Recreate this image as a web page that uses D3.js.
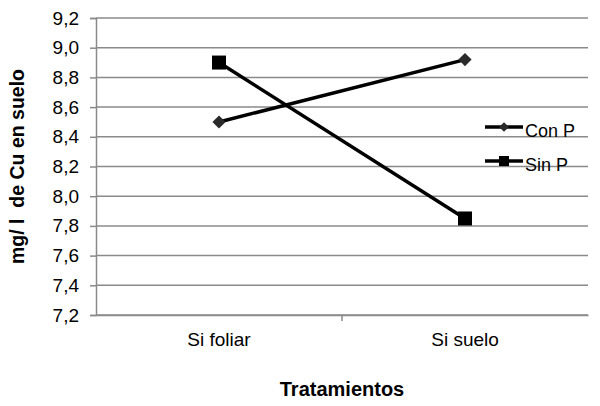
<!DOCTYPE html>
<html>
<head>
<meta charset="utf-8">
<script src="https://cdn.jsdelivr.net/npm/d3@7"></script>
<style>
  body { margin: 0; background: #fff; }
  text { font-family: "Liberation Sans", Arial, sans-serif; fill: #000; }
</style>
</head>
<body>
<div id="chart"></div>
<script>
// data
var categories = ["Si foliar", "Si suelo"];
var conP = [8.50, 8.92];
var sinP = [8.90, 7.85];
var seriesNames = ["Con P", "Sin P"];
var yTicks = [7.2, 7.4, 7.6, 7.8, 8.0, 8.2, 8.4, 8.6, 8.8, 9.0, 9.2];

var svgWidth = 600, svgHeight = 406;
var margin = { top: 18, right: 12, bottom: 91, left: 96 };
var width = svgWidth - margin.left - margin.right;
var height = svgHeight - margin.top - margin.bottom;

var svg = d3.select("#chart").append("svg")
  .attr("width", svgWidth)
  .attr("height", svgHeight);

var g = svg.append("g")
  .attr("transform", `translate(${margin.left}, ${margin.top})`);

var x = d3.scaleBand().domain(categories).range([0, width]);
var y = d3.scaleLinear().domain([7.2, 9.2]).range([height, 0]);

var fmt = d => d3.format(".1f")(d).replace(".", ",");

// gridlines
g.selectAll(".grid").data(yTicks).enter().append("line")
  .attr("x1", 0).attr("x2", width)
  .attr("y1", d => y(d)).attr("y2", d => y(d))
  .attr("stroke", "#8a8a8a").attr("stroke-width", 1.5);

// y axis
var yAxis = g.append("g")
  .call(d3.axisLeft(y).tickValues(yTicks).tickFormat(fmt).tickSize(6).tickPadding(11));
yAxis.select(".domain").attr("stroke", "#8a8a8a").attr("stroke-width", 1.5);
yAxis.selectAll(".tick line").attr("stroke", "#8a8a8a").attr("stroke-width", 1.5);
yAxis.selectAll("text").attr("font-size", 19).attr("font-family", "Liberation Sans, Arial, sans-serif");

// x axis
var xAxis = g.append("g")
  .attr("transform", `translate(0, ${height})`)
  .call(d3.axisBottom(x).tickSize(0));
xAxis.select(".domain").attr("stroke", "#8a8a8a").attr("stroke-width", 1.5);
xAxis.selectAll("text").attr("font-size", 19).attr("font-family", "Liberation Sans, Arial, sans-serif")
  .attr("y", 31).attr("dy", 0);
g.append("line")
  .attr("x1", width / 2).attr("x2", width / 2)
  .attr("y1", height).attr("y2", height + 6)
  .attr("stroke", "#8a8a8a").attr("stroke-width", 1.5);

var cx = d => x(d) + x.bandwidth() / 2;
var line = d3.line().x(d => cx(d[0])).y(d => y(d[1]));

// Con P
g.append("path")
  .datum(categories.map((c, i) => [c, conP[i]]))
  .attr("d", line).attr("fill", "none").attr("stroke", "#000").attr("stroke-width", 3.5);
g.selectAll(".dia").data(categories.map((c, i) => [c, conP[i]])).enter().append("path")
  .attr("d", d3.symbol().type(d3.symbolDiamond2).size(110))
  .attr("transform", d => `translate(${cx(d[0])}, ${y(d[1])})`)
  .attr("fill", "#2a2a2a");

// Sin P
g.append("path")
  .datum(categories.map((c, i) => [c, sinP[i]]))
  .attr("d", line).attr("fill", "none").attr("stroke", "#000").attr("stroke-width", 3.5);
g.selectAll(".sq").data(categories.map((c, i) => [c, sinP[i]])).enter().append("rect")
  .attr("x", d => cx(d[0]) - 7).attr("y", d => y(d[1]) - 7)
  .attr("width", 14).attr("height", 14).attr("fill", "#000");

// legend
var legend = svg.append("g").attr("transform", "translate(485, 127)");
seriesNames.forEach(function(name, i) {
  var row = legend.append("g").attr("transform", `translate(0, ${i * 34})`);
  row.append("line").attr("x1", 0).attr("x2", 38).attr("y1", 0).attr("y2", 0)
    .attr("stroke", "#000").attr("stroke-width", 3.5);
  if (i === 0) {
    row.append("path").attr("d", d3.symbol().type(d3.symbolDiamond2).size(60))
      .attr("transform", "translate(19, 0)").attr("fill", "#2a2a2a");
  } else {
    row.append("rect").attr("x", 14).attr("y", -5).attr("width", 10).attr("height", 10).attr("fill", "#000");
  }
  row.append("text").attr("x", 40).attr("y", 10).attr("font-size", 18).text(name);
});

// axis titles
svg.append("text")
  .attr("transform", `translate(24, ${margin.top + height / 2}) rotate(-90)`)
  .attr("text-anchor", "middle")
  .attr("font-size", 19.5).attr("font-weight", "bold")
  .style("white-space", "pre")
  .text("mg/ l  de Cu en suelo");

svg.append("text")
  .attr("x", margin.left + width / 2).attr("y", 396)
  .attr("text-anchor", "middle")
  .attr("font-size", 20).attr("font-weight", "bold")
  .text("Tratamientos");
</script>
</body>
</html>
